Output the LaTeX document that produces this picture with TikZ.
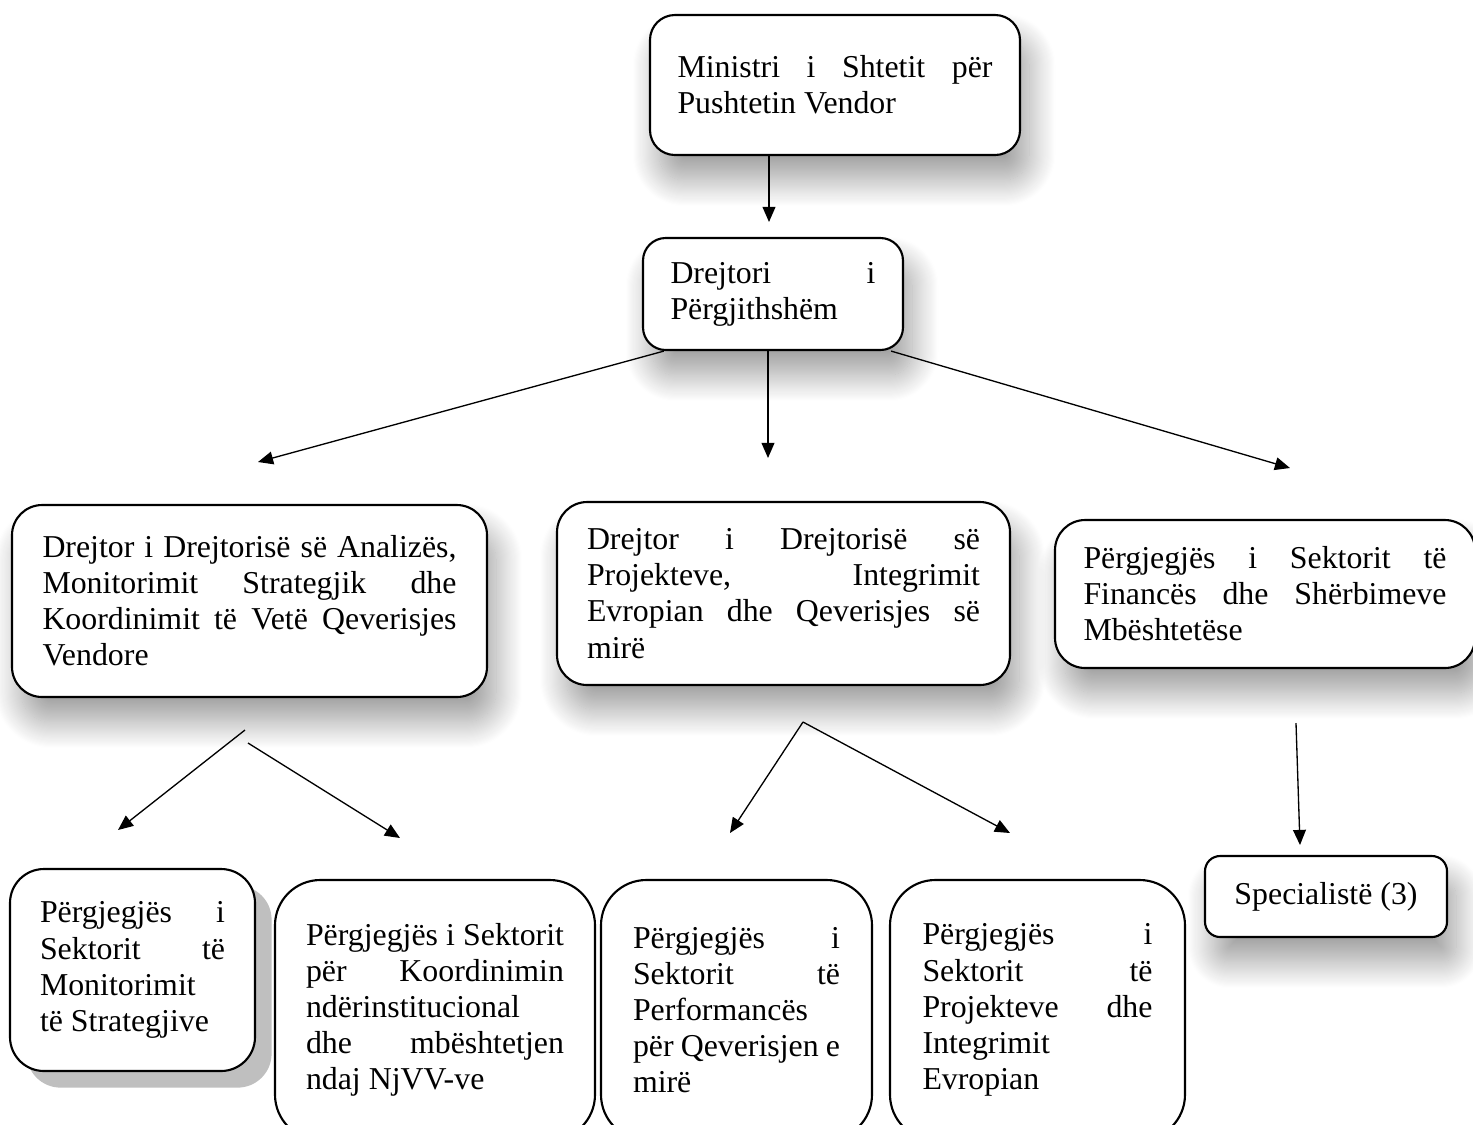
\documentclass[tikz,border=0pt]{standalone}
\usepackage{fontspec}
\setmainfont{Liberation Serif}
\usetikzlibrary{arrows.meta,shadows,shadows.blur}
\newlength\pxu
\setlength\pxu{0.01325cm}
\hyphenpenalty=10000
\tolerance=10000

\begin{document}
\begin{tikzpicture}[x=0.01325cm, y=-0.01325cm,
    box/.style = {draw, line width=0.8pt, fill=white, inner sep=0pt, align=justify,
                  font=\fontsize{12}{13.6}\selectfont},
    soft/.style = {blur shadow={shadow xshift=0.12cm, shadow yshift=-0.33cm,
                  shadow blur radius=0.35cm, shadow blur steps=25, shadow opacity=38}},
    hard/.style = {drop shadow={shadow xshift=0.22cm, shadow yshift=-0.22cm,
                  fill=black!25, opacity=1}},
    arr/.style = {-{Triangle[length=2mm,width=1.7mm]}, line width=0.5pt}]
    \useasboundingbox (0,0) rectangle (1473,1124);
    \clip (0,0) rectangle (1473,1124);

    % top
    \node[box, soft, rounded corners=0.33cm, minimum width=370\pxu, minimum height=140\pxu,
          text width=315\pxu] (min) at (835,85) {Ministri i Shtetit për\linebreak Pushtetin Vendor};
    \node[box, soft, rounded corners=0.3cm, minimum width=260\pxu, minimum height=112\pxu,
          text width=205\pxu] (gen) at (773,294) {Drejtori i\linebreak Përgjithshëm};

    % directorates
    \node[box, soft, rounded corners=0.4cm, minimum width=475\pxu, minimum height=192\pxu,
          text width=414\pxu] (dirA) at (249.5,601)
          {Drejtor i Drejtorisë së Analizës,\linebreak Monitorimit Strategjik dhe\linebreak
           Koordinimit të Vetë Qeverisjes\linebreak Vendore};
    \node[box, soft, rounded corners=0.4cm, minimum width=453\pxu, minimum height=183\pxu,
          text width=393\pxu] (dirP) at (783.5,593.5)
          {Drejtor i Drejtorisë së\linebreak Projekteve, Integrimit\linebreak
           Evropian dhe Qeverisjes së\linebreak mirë};
    \node[box, soft, rounded corners=0.4cm, minimum width=420\pxu, minimum height=148\pxu,
          text width=363\pxu] (fin) at (1265,594)
          {Përgjegjës i Sektorit të\linebreak Financës dhe Shërbimeve\linebreak Mbështetëse};

    % sectors
    \node[box, hard, rounded corners=0.45cm, minimum width=245\pxu, minimum height=202\pxu,
          text width=185\pxu] (mon) at (132.5,970)
          {Përgjegjës i\linebreak Sektorit të\linebreak Monitorimit\linebreak të Strategjive};
    \node[box, rounded corners=0.6cm, minimum width=320\pxu, minimum height=260\pxu,
          text width=258\pxu] (koo) at (435,1010)
          {Përgjegjës i Sektorit\linebreak për Koordinimin\linebreak ndërinstitucional\linebreak
           dhe mbështetjen\linebreak ndaj NjVV-ve};
    \node[box, rounded corners=0.6cm, minimum width=271\pxu, minimum height=260\pxu,
          text width=207\pxu] (per) at (736.5,1010)
          {Përgjegjës i\linebreak Sektorit të\linebreak Performancës\linebreak
           për Qeverisjen e\linebreak mirë};
    \node[box, rounded corners=0.6cm, minimum width=295\pxu, minimum height=260\pxu,
          text width=230\pxu] (pro) at (1037.5,1010)
          {Përgjegjës i\linebreak Sektorit të\linebreak Projekteve dhe\linebreak
           Integrimit\linebreak Evropian};
    \node[box, soft, align=center, rounded corners=0.2cm, minimum width=242\pxu,
          minimum height=81\pxu] (spec) at (1326,896.5) {Specialistë (3)};

    % free arrow ends
    \coordinate (e1) at (769,222);
    \coordinate (e2) at (258,462);
    \coordinate (e3) at (768,458);
    \coordinate (e4) at (1290,468);
    \coordinate (s5) at (245,730);
    \coordinate (e5) at (118,830);
    \coordinate (s6) at (248,743);
    \coordinate (e6) at (400,838);
    \coordinate (s7) at (803,722);
    \coordinate (e7) at (730,833);
    \coordinate (e8) at (1010,833);
    \coordinate (s9) at (1296,723);
    \coordinate (e9) at (1300,845);

    \draw[arr] (min.south -| e1) -- (e1);
    \draw[arr] ([xshift=22\pxu]gen.south west) -- (e2);
    \draw[arr] (gen.south -| e3) -- (e3);
    \draw[arr] ([xshift=-13\pxu]gen.south east) -- (e4);
    \draw[arr] (s5) -- (e5);
    \draw[arr] (s6) -- (e6);
    \draw[arr] (s7) -- (e7);
    \draw[arr] (s7) -- (e8);
    \draw[arr] (s9) -- (e9);
\end{tikzpicture}
\end{document}
